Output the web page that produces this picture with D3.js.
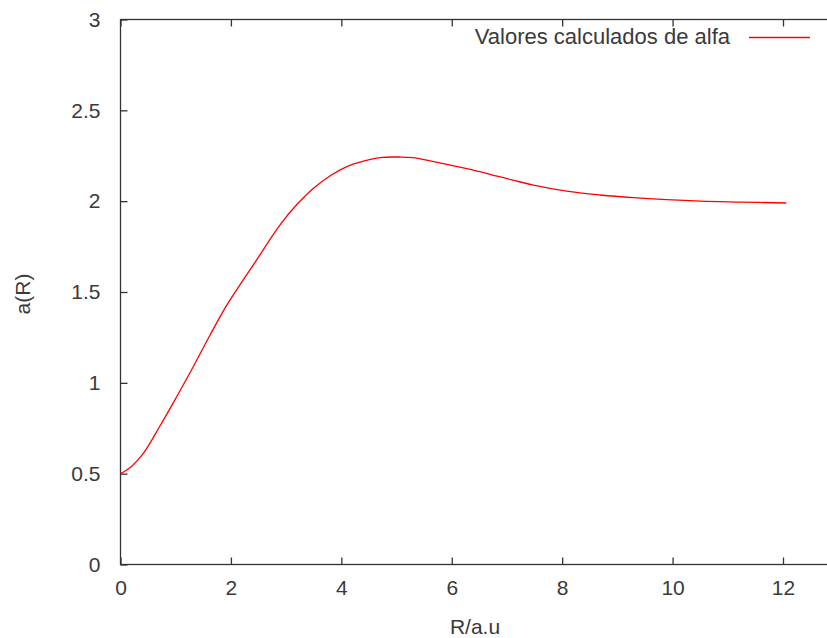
<!DOCTYPE html>
<html>
<head>
<meta charset="utf-8">
<script src="https://cdn.jsdelivr.net/npm/d3@7"></script>
<style>
  body { margin: 0; background: #fff; }
  text { font-family: "Liberation Sans", Arial, sans-serif; fill: #3a3a3a; }
</style>
</head>
<body>
<div id="chart"></div>
<script>
// values
var rValues = [0, 0.2, 0.41, 0.72, 1.02, 1.32, 1.62, 1.92, 2.22, 2.44, 2.89, 3.19, 3.49, 3.80,
  4.10, 4.40, 4.70, 5.06, 5.30, 5.61, 5.91, 6.21, 6.51, 6.82, 7.12, 7.48, 8.08, 8.69,
  9.29, 9.89, 10.5, 11.22, 12.06];
var alphaValues = [0.5, 0.54, 0.61, 0.765, 0.925, 1.09, 1.262, 1.425, 1.565, 1.665, 1.87, 1.98, 2.07, 2.14,
  2.19, 2.22, 2.24, 2.243, 2.24, 2.222, 2.203, 2.183, 2.162, 2.138, 2.115, 2.088, 2.055, 2.034,
  2.019, 2.008, 2.0, 1.995, 1.99];
var xTicks = [0, 2, 4, 6, 8, 10, 12];
var yTicks = [0, 0.5, 1, 1.5, 2, 2.5, 3];
var seriesName = "Valores calculados de alfa";

var width = 827, height = 638;
var margin = { top: 19.5, left: 120.5 };
var innerHeight = 545;

var xScale = d3.scaleLinear().domain([0, 12]).range([0, 662.5]);
var yScale = d3.scaleLinear().domain([0, 3]).range([innerHeight, 0]);
var xMax = 13;

var data = rValues.map(function(r, i) { return [r, alphaValues[i]]; });

var svg = d3.select("#chart").append("svg")
  .attr("width", width)
  .attr("height", height);

var g = svg.append("g")
  .attr("transform", "translate(" + margin.left + "," + margin.top + ")");

var innerWidth = xScale(xMax);

// border
g.append("rect")
  .attr("width", innerWidth)
  .attr("height", innerHeight)
  .attr("fill", "none")
  .attr("stroke", "#333")
  .attr("stroke-width", 1.3);

// axes with inward ticks, mirrored on top and right
var tick = 7;
var fmt = d3.format("~g");
g.append("g")
  .attr("transform", "translate(0," + innerHeight + ")")
  .call(d3.axisBottom(xScale).tickValues(xTicks).tickFormat(fmt).tickSizeInner(-tick).tickSizeOuter(0).tickPadding(16))
  .call(function(a) { a.select(".domain").remove(); });
g.append("g")
  .call(d3.axisTop(xScale).tickValues(xTicks).tickSizeInner(-tick).tickSizeOuter(0).tickFormat(""))
  .call(function(a) { a.select(".domain").remove(); });
g.append("g")
  .call(d3.axisLeft(yScale).tickValues(yTicks).tickFormat(fmt).tickSizeInner(-tick).tickSizeOuter(0).tickPadding(20))
  .call(function(a) { a.select(".domain").remove(); });
g.append("g")
  .attr("transform", "translate(" + innerWidth + ",0)")
  .call(d3.axisRight(yScale).tickValues(yTicks).tickSizeInner(-tick).tickSizeOuter(0).tickFormat(""))
  .call(function(a) { a.select(".domain").remove(); });

g.selectAll(".tick line").attr("stroke", "#333").attr("stroke-width", 1.3);
g.selectAll(".tick text").style("font-size", "21px").attr("fill", "#3a3a3a");

// curve
var line = d3.line()
  .x(function(d) { return xScale(d[0]); })
  .y(function(d) { return yScale(d[1]); })
  .curve(d3.curveCatmullRom.alpha(0.5));

g.append("path")
  .datum(data)
  .attr("fill", "none")
  .attr("stroke", "#ff0000")
  .attr("stroke-width", 1.3)
  .attr("d", line);

// legend
svg.append("text")
  .attr("x", 730)
  .attr("y", 44)
  .attr("text-anchor", "end")
  .style("font-size", "22px")
  .text(seriesName);
svg.append("line")
  .attr("x1", 749).attr("x2", 810)
  .attr("y1", 37.5).attr("y2", 37.5)
  .attr("stroke", "#ff0000")
  .attr("stroke-width", 1.3);

// axis labels
svg.append("text")
  .attr("transform", "translate(30,294) rotate(-90)")
  .attr("text-anchor", "middle")
  .style("font-size", "21px")
  .text("a(R)");
svg.append("text")
  .attr("x", 475)
  .attr("y", 634)
  .attr("text-anchor", "middle")
  .style("font-size", "21px")
  .text("R/a.u");
</script>
</body>
</html>
